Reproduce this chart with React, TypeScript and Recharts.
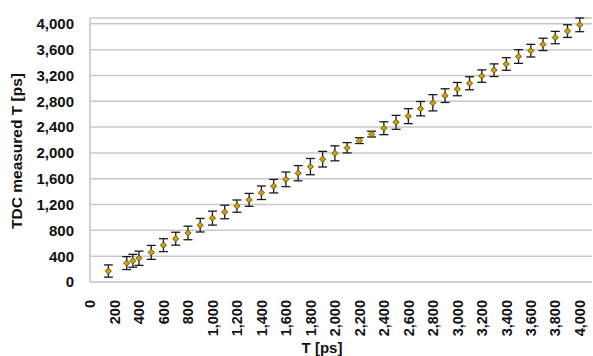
// App.tsx
import React from 'react';
import {
  ScatterChart,
  Scatter,
  XAxis,
  YAxis,
  CartesianGrid,
  ErrorBar,
  Label
} from 'recharts';

const trueT = [
  150, 300, 350, 400, 500, 600, 700, 800, 900, 1000, 1100, 1200, 1300, 1400,
  1500, 1600, 1700, 1800, 1900, 2000, 2100, 2200, 2300, 2400, 2500, 2600, 2700,
  2800, 2900, 3000, 3100, 3200, 3300, 3400, 3500, 3600, 3700, 3800, 3900, 4000
];

const measuredT = [
  170, 293, 329, 368, 459, 571, 671, 760, 880, 990, 1085, 1176, 1273, 1383,
  1485, 1591, 1686, 1788, 1903, 1994, 2080, 2191, 2292, 2383, 2474, 2570, 2686,
  2777, 2888, 2989, 3080, 3191, 3282, 3379, 3494, 3585, 3682, 3788, 3888, 3985
];

const errorT = [
  95, 100, 100, 110, 108, 100, 100, 105, 105, 108, 105, 95, 100, 105, 105, 113,
  118, 126, 121, 116, 80, 45, 45, 100, 108, 116, 111, 126, 106, 103, 101, 96,
  98, 98, 106, 98, 96, 96, 98, 106
];

const xTicks = [
  0, 200, 400, 600, 800, 1000, 1200, 1400, 1600, 1800, 2000, 2200, 2400, 2600,
  2800, 3000, 3200, 3400, 3600, 3800, 4000
];
const yTicks = [0, 400, 800, 1200, 1600, 2000, 2400, 2800, 3200, 3600, 4000];

const data = trueT.map((t, i) => ({ t, m: measuredT[i], err: errorT[i] }));

const fmt = (v: number) => v.toLocaleString('en-US');
const font = 'Liberation Sans, Arial, sans-serif';

const XTick = (props: any) => {
  const { x, y, payload } = props;
  const ty = y + 10;
  return (
    <text
      x={x}
      y={ty}
      transform={`rotate(-90, ${x}, ${ty})`}
      textAnchor="end"
      dy="0.36em"
      fontFamily={font}
      fontWeight="bold"
      fontSize={14.5}
      fill="#111"
    >
      {fmt(payload.value)}
    </text>
  );
};

const Diamond = (props: any) => {
  const { cx, cy } = props;
  const r = 3.1;
  return (
    <polygon
      points={`${cx},${cy - r} ${cx + r},${cy} ${cx},${cy + r} ${cx - r},${cy}`}
      fill="#D4A000"
      stroke="#4a3c00"
      strokeWidth={0.8}
    />
  );
};

export default function App() {
  return (
    <div>
      <style>{`body{margin:0}`}</style>
      <ScatterChart
        width={593}
        height={356}
        margin={{ top: 18, right: 1, bottom: 0, left: 0 }}
      >
        <CartesianGrid vertical={false} stroke="#c8c8c8" strokeWidth={1.5} />
        <XAxis
          type="number"
          dataKey="t"
          domain={[0, 4100]}
          ticks={xTicks}
          interval={0}
          height={74}
          tickLine={false}
          axisLine={{ stroke: '#d0d0d0', strokeWidth: 2 }}
          tick={<XTick />}
        >
          <Label
            content={() => (
              <text
                x={322}
                y={353}
                textAnchor="middle"
                fontFamily={font}
                fontWeight="bold"
                fontSize={15}
                fill="#111"
              >
                T [ps]
              </text>
            )}
          />
        </XAxis>
        <YAxis
          type="number"
          dataKey="m"
          domain={[0, 4000]}
          ticks={yTicks}
          interval={0}
          width={90}
          tickLine={false}
          tickSize={0}
          tickMargin={16}
          tickFormatter={fmt}
          axisLine={{ stroke: '#d0d0d0', strokeWidth: 2 }}
          tick={{ fontFamily: font, fontWeight: 'bold', fontSize: 15, fill: '#111' }}
        >
          <Label
            content={() => (
              <text
                x={16}
                y={151}
                transform="rotate(-90, 16, 151)"
                textAnchor="middle"
                dy="0.36em"
                fontFamily={font}
                fontWeight="bold"
                fontSize={15.5}
                fill="#111"
              >
                TDC measured T [ps]
              </text>
            )}
          />
        </YAxis>
        <Scatter data={data} shape={<Diamond />} isAnimationActive={false}>
          <ErrorBar
            dataKey="err"
            direction="y"
            width={4.5}
            stroke="#1a1a1a"
            strokeWidth={1.3}
            isAnimationActive={false}
          />
        </Scatter>
      </ScatterChart>
    </div>
  );
}
